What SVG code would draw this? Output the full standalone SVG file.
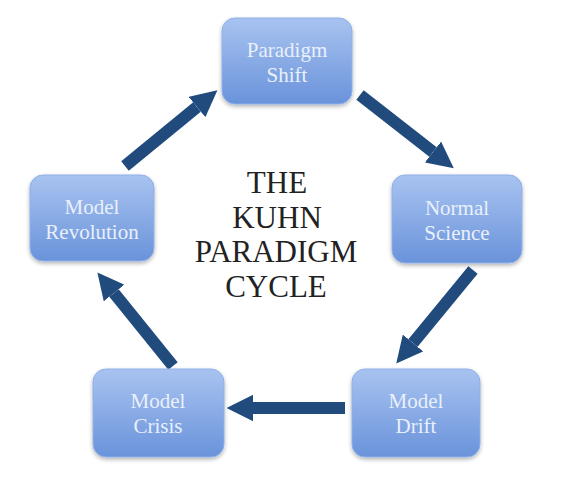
<svg xmlns="http://www.w3.org/2000/svg" width="561" height="480" viewBox="0 0 561 480">
<defs>
<linearGradient id="g" x1="0" y1="0" x2="0" y2="1">
<stop offset="0" stop-color="#a8c3f0"/>
<stop offset="1" stop-color="#6a93db"/>
</linearGradient>
<filter id="sh" x="-10%" y="-10%" width="120%" height="125%">
<feGaussianBlur in="SourceAlpha" stdDeviation="2"/>
<feOffset dy="2"/>
<feComponentTransfer><feFuncA type="linear" slope="0.3"/></feComponentTransfer>
<feMerge><feMergeNode/><feMergeNode in="SourceGraphic"/></feMerge>
</filter>
<marker id="ah" viewBox="0 0 10 10" refX="0" refY="5" markerWidth="2.2" markerHeight="2.2" markerUnits="strokeWidth" orient="auto">
<path d="M0,0 L10,5 L0,10 z" fill="#214a7d"/>
</marker>
</defs>
<style>
.box{fill:url(#g);stroke:#8fb0e8;stroke-width:1;filter:url(#sh)}
.lbl{font-family:"Liberation Serif",serif;font-size:21px;fill:#e9f0fb;text-anchor:middle}
.arr{stroke:#214a7d;stroke-width:12;fill:none;marker-end:url(#ah)}
.title{font-family:"Liberation Serif",serif;font-size:31px;fill:#222;text-anchor:middle}
</style>
<rect width="561" height="480" fill="#fff"/>
<g id="connectors">
<line class="arr" x1="360" y1="95" x2="433" y2="152"/>
<line class="arr" x1="473" y1="270" x2="413" y2="343"/>
<line class="arr" x1="345" y1="408" x2="253" y2="408"/>
<line class="arr" x1="173" y1="366" x2="114" y2="293"/>
<line class="arr" x1="125" y1="166" x2="197" y2="107"/>
</g>
<g id="paradigm-shift">
<rect class="box" x="222" y="18" width="130" height="86" rx="13"/>
<text class="lbl" x="287" y="57">Paradigm</text>
<text class="lbl" x="287" y="82">Shift</text>
</g>
<g id="normal-science">
<rect class="box" x="392" y="175" width="130" height="88" rx="13"/>
<text class="lbl" x="457" y="215">Normal</text>
<text class="lbl" x="457" y="240">Science</text>
</g>
<g id="model-drift">
<rect class="box" x="352" y="369" width="128" height="88" rx="13"/>
<text class="lbl" x="416" y="408">Model</text>
<text class="lbl" x="416" y="433">Drift</text>
</g>
<g id="model-crisis">
<rect class="box" x="93" y="369" width="131" height="88" rx="13"/>
<text class="lbl" x="158" y="408">Model</text>
<text class="lbl" x="158" y="433">Crisis</text>
</g>
<g id="model-revolution">
<rect class="box" x="30" y="175" width="124" height="86" rx="13"/>
<text class="lbl" x="92" y="214">Model</text>
<text class="lbl" x="92" y="239">Revolution</text>
</g>
<g id="title">
<text class="title" x="277" y="193">THE</text>
<text class="title" x="277" y="228">KUHN</text>
<text class="title" x="276" y="262">PARADIGM</text>
<text class="title" x="276" y="297">CYCLE</text>
</g>
</svg>
